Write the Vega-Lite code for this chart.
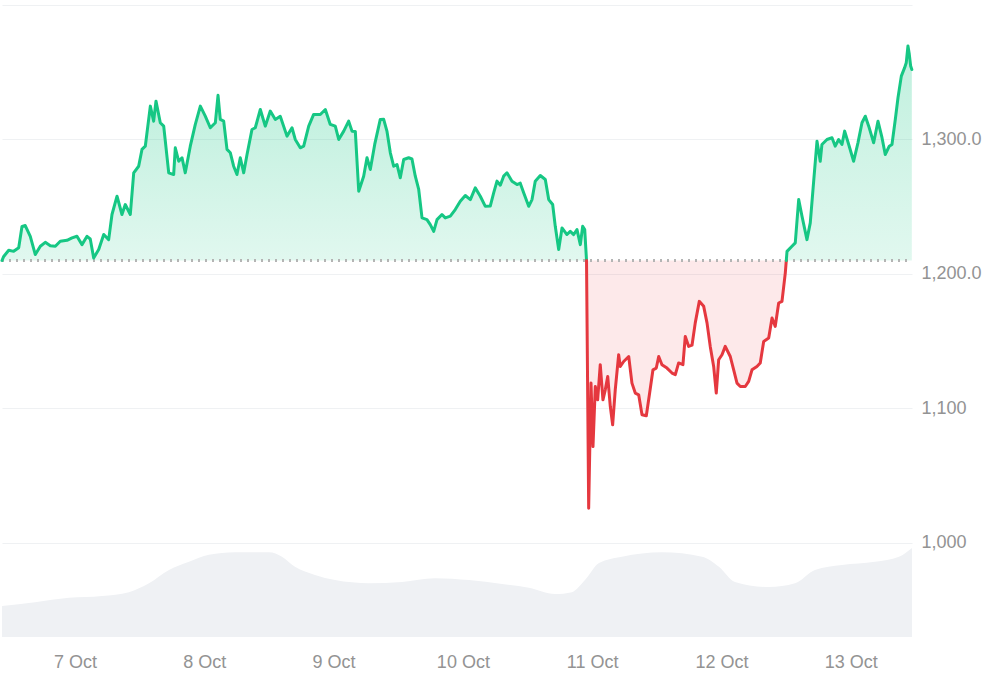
{
  "$schema": "https://vega.github.io/schema/vega-lite/v6.json",
  "width": 910,
  "height": 632,
  "padding": {"left": 0, "top": 5, "right": 0, "bottom": 0},
  "background": "#ffffff",
  "config": {
    "view": {"stroke": null},
    "font": "Liberation Sans"
  },
  "datasets": {
    "price": [
      {"t": "2025-10-06T10:27", "p": 1210, "seg": "a"},
      {"t": "2025-10-06T10:46", "p": 1213, "seg": "a"},
      {"t": "2025-10-06T11:42", "p": 1217.6, "seg": "a"},
      {"t": "2025-10-06T12:37", "p": 1216.8, "seg": "a"},
      {"t": "2025-10-06T13:33", "p": 1219.4, "seg": "a"},
      {"t": "2025-10-06T14:10", "p": 1235.4, "seg": "a"},
      {"t": "2025-10-06T14:46", "p": 1236, "seg": "a"},
      {"t": "2025-10-06T15:42", "p": 1228, "seg": "a"},
      {"t": "2025-10-06T16:38", "p": 1214.4, "seg": "a"},
      {"t": "2025-10-06T17:34", "p": 1220.6, "seg": "a"},
      {"t": "2025-10-06T18:29", "p": 1223.5, "seg": "a"},
      {"t": "2025-10-06T19:25", "p": 1221, "seg": "a"},
      {"t": "2025-10-06T20:21", "p": 1220.6, "seg": "a"},
      {"t": "2025-10-06T21:16", "p": 1224.3, "seg": "a"},
      {"t": "2025-10-06T22:31", "p": 1225, "seg": "a"},
      {"t": "2025-10-06T23:27", "p": 1226.8, "seg": "a"},
      {"t": "2025-10-07T00:22", "p": 1228, "seg": "a"},
      {"t": "2025-10-07T01:18", "p": 1221.8, "seg": "a"},
      {"t": "2025-10-07T02:14", "p": 1228, "seg": "a"},
      {"t": "2025-10-07T02:50", "p": 1226, "seg": "a"},
      {"t": "2025-10-07T03:28", "p": 1211.9, "seg": "a"},
      {"t": "2025-10-07T04:24", "p": 1218.1, "seg": "a"},
      {"t": "2025-10-07T05:20", "p": 1229.3, "seg": "a"},
      {"t": "2025-10-07T06:15", "p": 1225.5, "seg": "a"},
      {"t": "2025-10-07T06:52", "p": 1244.2, "seg": "a"},
      {"t": "2025-10-07T07:48", "p": 1257.8, "seg": "a"},
      {"t": "2025-10-07T08:43", "p": 1244.2, "seg": "a"},
      {"t": "2025-10-07T09:20", "p": 1251.6, "seg": "a"},
      {"t": "2025-10-07T10:16", "p": 1244.2, "seg": "a"},
      {"t": "2025-10-07T10:54", "p": 1275.2, "seg": "a"},
      {"t": "2025-10-07T11:49", "p": 1280.1, "seg": "a"},
      {"t": "2025-10-07T12:26", "p": 1292.6, "seg": "a"},
      {"t": "2025-10-07T13:03", "p": 1295, "seg": "a"},
      {"t": "2025-10-07T13:59", "p": 1324.8, "seg": "a"},
      {"t": "2025-10-07T14:36", "p": 1313.6, "seg": "a"},
      {"t": "2025-10-07T15:02", "p": 1328.5, "seg": "a"},
      {"t": "2025-10-07T15:50", "p": 1312.4, "seg": "a"},
      {"t": "2025-10-07T16:28", "p": 1309.9, "seg": "a"},
      {"t": "2025-10-07T17:24", "p": 1275.2, "seg": "a"},
      {"t": "2025-10-07T18:19", "p": 1273.9, "seg": "a"},
      {"t": "2025-10-07T18:37", "p": 1293.8, "seg": "a"},
      {"t": "2025-10-07T19:15", "p": 1283.8, "seg": "a"},
      {"t": "2025-10-07T19:52", "p": 1286.4, "seg": "a"},
      {"t": "2025-10-07T20:28", "p": 1275.2, "seg": "a"},
      {"t": "2025-10-07T21:24", "p": 1295, "seg": "a"},
      {"t": "2025-10-07T22:20", "p": 1311.2, "seg": "a"},
      {"t": "2025-10-07T23:16", "p": 1324.8, "seg": "a"},
      {"t": "2025-10-08T00:11", "p": 1317.3, "seg": "a"},
      {"t": "2025-10-08T01:07", "p": 1308.7, "seg": "a"},
      {"t": "2025-10-08T02:03", "p": 1312.4, "seg": "a"},
      {"t": "2025-10-08T02:33", "p": 1332.8, "seg": "a"},
      {"t": "2025-10-08T02:58", "p": 1314.9, "seg": "a"},
      {"t": "2025-10-08T03:36", "p": 1313.6, "seg": "a"},
      {"t": "2025-10-08T04:13", "p": 1292.6, "seg": "a"},
      {"t": "2025-10-08T04:50", "p": 1290.1, "seg": "a"},
      {"t": "2025-10-08T05:27", "p": 1280.1, "seg": "a"},
      {"t": "2025-10-08T06:04", "p": 1273.9, "seg": "a"},
      {"t": "2025-10-08T06:41", "p": 1286.4, "seg": "a"},
      {"t": "2025-10-08T07:19", "p": 1275.2, "seg": "a"},
      {"t": "2025-10-08T07:56", "p": 1288.8, "seg": "a"},
      {"t": "2025-10-08T08:51", "p": 1307.4, "seg": "a"},
      {"t": "2025-10-08T09:28", "p": 1308.7, "seg": "a"},
      {"t": "2025-10-08T10:24", "p": 1322.3, "seg": "a"},
      {"t": "2025-10-08T11:19", "p": 1309.9, "seg": "a"},
      {"t": "2025-10-08T12:15", "p": 1321.1, "seg": "a"},
      {"t": "2025-10-08T13:11", "p": 1314.9, "seg": "a"},
      {"t": "2025-10-08T14:06", "p": 1317.3, "seg": "a"},
      {"t": "2025-10-08T15:21", "p": 1302.5, "seg": "a"},
      {"t": "2025-10-08T16:17", "p": 1308.7, "seg": "a"},
      {"t": "2025-10-08T16:53", "p": 1300, "seg": "a"},
      {"t": "2025-10-08T17:49", "p": 1293.8, "seg": "a"},
      {"t": "2025-10-08T18:27", "p": 1295, "seg": "a"},
      {"t": "2025-10-08T19:23", "p": 1309.9, "seg": "a"},
      {"t": "2025-10-08T20:18", "p": 1318.6, "seg": "a"},
      {"t": "2025-10-08T21:32", "p": 1318.6, "seg": "a"},
      {"t": "2025-10-08T22:28", "p": 1322.3, "seg": "a"},
      {"t": "2025-10-08T23:23", "p": 1311.2, "seg": "a"},
      {"t": "2025-10-09T00:19", "p": 1309.9, "seg": "a"},
      {"t": "2025-10-09T00:57", "p": 1300, "seg": "a"},
      {"t": "2025-10-09T01:53", "p": 1306.2, "seg": "a"},
      {"t": "2025-10-09T02:48", "p": 1313.6, "seg": "a"},
      {"t": "2025-10-09T03:25", "p": 1306.2, "seg": "a"},
      {"t": "2025-10-09T04:02", "p": 1306, "seg": "a"},
      {"t": "2025-10-09T04:40", "p": 1261.5, "seg": "a"},
      {"t": "2025-10-09T05:35", "p": 1272.7, "seg": "a"},
      {"t": "2025-10-09T06:12", "p": 1286.4, "seg": "a"},
      {"t": "2025-10-09T06:49", "p": 1277.7, "seg": "a"},
      {"t": "2025-10-09T07:38", "p": 1296.3, "seg": "a"},
      {"t": "2025-10-09T08:40", "p": 1314.9, "seg": "a"},
      {"t": "2025-10-09T09:18", "p": 1315, "seg": "a"},
      {"t": "2025-10-09T09:55", "p": 1306, "seg": "a"},
      {"t": "2025-10-09T10:32", "p": 1290.1, "seg": "a"},
      {"t": "2025-10-09T11:09", "p": 1280.1, "seg": "a"},
      {"t": "2025-10-09T11:46", "p": 1281.4, "seg": "a"},
      {"t": "2025-10-09T12:23", "p": 1271.5, "seg": "a"},
      {"t": "2025-10-09T13:01", "p": 1285.1, "seg": "a"},
      {"t": "2025-10-09T13:56", "p": 1286.4, "seg": "a"},
      {"t": "2025-10-09T14:33", "p": 1285.5, "seg": "a"},
      {"t": "2025-10-09T15:10", "p": 1272.7, "seg": "a"},
      {"t": "2025-10-09T15:48", "p": 1262.8, "seg": "a"},
      {"t": "2025-10-09T16:25", "p": 1241.7, "seg": "a"},
      {"t": "2025-10-09T17:20", "p": 1240.4, "seg": "a"},
      {"t": "2025-10-09T17:57", "p": 1236.7, "seg": "a"},
      {"t": "2025-10-09T18:35", "p": 1231.7, "seg": "a"},
      {"t": "2025-10-09T19:12", "p": 1240.4, "seg": "a"},
      {"t": "2025-10-09T20:07", "p": 1244.2, "seg": "a"},
      {"t": "2025-10-09T20:44", "p": 1241.7, "seg": "a"},
      {"t": "2025-10-09T21:40", "p": 1243, "seg": "a"},
      {"t": "2025-10-09T22:35", "p": 1247.9, "seg": "a"},
      {"t": "2025-10-09T23:31", "p": 1254.1, "seg": "a"},
      {"t": "2025-10-10T00:27", "p": 1258.3, "seg": "a"},
      {"t": "2025-10-10T01:23", "p": 1255.3, "seg": "a"},
      {"t": "2025-10-10T02:18", "p": 1264, "seg": "a"},
      {"t": "2025-10-10T03:14", "p": 1257.8, "seg": "a"},
      {"t": "2025-10-10T04:10", "p": 1250.3, "seg": "a"},
      {"t": "2025-10-10T05:05", "p": 1250.5, "seg": "a"},
      {"t": "2025-10-10T05:43", "p": 1260.3, "seg": "a"},
      {"t": "2025-10-10T06:20", "p": 1269, "seg": "a"},
      {"t": "2025-10-10T06:57", "p": 1266, "seg": "a"},
      {"t": "2025-10-10T07:34", "p": 1272.7, "seg": "a"},
      {"t": "2025-10-10T08:11", "p": 1275.2, "seg": "a"},
      {"t": "2025-10-10T09:07", "p": 1269, "seg": "a"},
      {"t": "2025-10-10T10:03", "p": 1266.5, "seg": "a"},
      {"t": "2025-10-10T10:39", "p": 1267.5, "seg": "a"},
      {"t": "2025-10-10T11:17", "p": 1260.3, "seg": "a"},
      {"t": "2025-10-10T12:13", "p": 1250.3, "seg": "a"},
      {"t": "2025-10-10T12:50", "p": 1255.3, "seg": "a"},
      {"t": "2025-10-10T13:26", "p": 1269, "seg": "a"},
      {"t": "2025-10-10T14:22", "p": 1273.2, "seg": "a"},
      {"t": "2025-10-10T15:18", "p": 1270.2, "seg": "a"},
      {"t": "2025-10-10T15:56", "p": 1255.3, "seg": "a"},
      {"t": "2025-10-10T16:40", "p": 1251.6, "seg": "a"},
      {"t": "2025-10-10T17:09", "p": 1235.4, "seg": "a"},
      {"t": "2025-10-10T17:47", "p": 1218.1, "seg": "a"},
      {"t": "2025-10-10T18:24", "p": 1234.2, "seg": "a"},
      {"t": "2025-10-10T19:19", "p": 1229.3, "seg": "a"},
      {"t": "2025-10-10T19:56", "p": 1231.7, "seg": "a"},
      {"t": "2025-10-10T20:34", "p": 1229.3, "seg": "a"},
      {"t": "2025-10-10T21:11", "p": 1233, "seg": "a"},
      {"t": "2025-10-10T21:48", "p": 1221.8, "seg": "a"},
      {"t": "2025-10-10T22:14", "p": 1235.4, "seg": "a"},
      {"t": "2025-10-10T22:37", "p": 1233, "seg": "a"},
      {"t": "2025-10-10T22:57", "p": 1210, "seg": "a"},
      {"t": "2025-10-10T22:57", "p": 1210, "seg": "b"},
      {"t": "2025-10-10T23:21", "p": 1025.8, "seg": "b"},
      {"t": "2025-10-10T23:47", "p": 1118.8, "seg": "b"},
      {"t": "2025-10-11T00:09", "p": 1071.6, "seg": "b"},
      {"t": "2025-10-11T00:35", "p": 1116.3, "seg": "b"},
      {"t": "2025-10-11T01:01", "p": 1106.4, "seg": "b"},
      {"t": "2025-10-11T01:30", "p": 1132.5, "seg": "b"},
      {"t": "2025-10-11T02:00", "p": 1106.4, "seg": "b"},
      {"t": "2025-10-11T02:26", "p": 1113.8, "seg": "b"},
      {"t": "2025-10-11T02:53", "p": 1123.8, "seg": "b"},
      {"t": "2025-10-11T03:22", "p": 1101.4, "seg": "b"},
      {"t": "2025-10-11T03:48", "p": 1087.8, "seg": "b"},
      {"t": "2025-10-11T04:17", "p": 1113.8, "seg": "b"},
      {"t": "2025-10-11T04:55", "p": 1139.9, "seg": "b"},
      {"t": "2025-10-11T05:13", "p": 1131.2, "seg": "b"},
      {"t": "2025-10-11T05:51", "p": 1134.9, "seg": "b"},
      {"t": "2025-10-11T06:47", "p": 1138.6, "seg": "b"},
      {"t": "2025-10-11T07:23", "p": 1118.8, "seg": "b"},
      {"t": "2025-10-11T08:00", "p": 1111.4, "seg": "b"},
      {"t": "2025-10-11T08:38", "p": 1110.1, "seg": "b"},
      {"t": "2025-10-11T09:15", "p": 1095.3, "seg": "b"},
      {"t": "2025-10-11T10:03", "p": 1094.5, "seg": "b"},
      {"t": "2025-10-11T10:40", "p": 1111.4, "seg": "b"},
      {"t": "2025-10-11T11:17", "p": 1128.7, "seg": "b"},
      {"t": "2025-10-11T11:54", "p": 1130, "seg": "b"},
      {"t": "2025-10-11T12:21", "p": 1138.6, "seg": "b"},
      {"t": "2025-10-11T12:57", "p": 1132.5, "seg": "b"},
      {"t": "2025-10-11T13:53", "p": 1130, "seg": "b"},
      {"t": "2025-10-11T14:49", "p": 1126.3, "seg": "b"},
      {"t": "2025-10-11T15:26", "p": 1125.1, "seg": "b"},
      {"t": "2025-10-11T16:03", "p": 1133.8, "seg": "b"},
      {"t": "2025-10-11T16:51", "p": 1132.5, "seg": "b"},
      {"t": "2025-10-11T17:17", "p": 1153.5, "seg": "b"},
      {"t": "2025-10-11T17:55", "p": 1146.1, "seg": "b"},
      {"t": "2025-10-11T18:32", "p": 1147, "seg": "b"},
      {"t": "2025-10-11T19:08", "p": 1163.6, "seg": "b"},
      {"t": "2025-10-11T19:53", "p": 1179.6, "seg": "b"},
      {"t": "2025-10-11T20:42", "p": 1175.9, "seg": "b"},
      {"t": "2025-10-11T21:19", "p": 1163.6, "seg": "b"},
      {"t": "2025-10-11T21:55", "p": 1146.1, "seg": "b"},
      {"t": "2025-10-11T22:33", "p": 1131.2, "seg": "b"},
      {"t": "2025-10-11T23:02", "p": 1111.4, "seg": "b"},
      {"t": "2025-10-11T23:29", "p": 1136.2, "seg": "b"},
      {"t": "2025-10-12T00:06", "p": 1139.9, "seg": "b"},
      {"t": "2025-10-12T00:42", "p": 1146.1, "seg": "b"},
      {"t": "2025-10-12T01:38", "p": 1138.6, "seg": "b"},
      {"t": "2025-10-12T02:16", "p": 1128.7, "seg": "b"},
      {"t": "2025-10-12T02:53", "p": 1118.8, "seg": "b"},
      {"t": "2025-10-12T03:30", "p": 1116.3, "seg": "b"},
      {"t": "2025-10-12T04:25", "p": 1116.3, "seg": "b"},
      {"t": "2025-10-12T05:03", "p": 1120.1, "seg": "b"},
      {"t": "2025-10-12T05:40", "p": 1128.7, "seg": "b"},
      {"t": "2025-10-12T06:35", "p": 1131.2, "seg": "b"},
      {"t": "2025-10-12T07:12", "p": 1133.8, "seg": "b"},
      {"t": "2025-10-12T07:50", "p": 1149.8, "seg": "b"},
      {"t": "2025-10-12T08:46", "p": 1152.3, "seg": "b"},
      {"t": "2025-10-12T09:23", "p": 1167.2, "seg": "b"},
      {"t": "2025-10-12T09:59", "p": 1161, "seg": "b"},
      {"t": "2025-10-12T10:37", "p": 1178.4, "seg": "b"},
      {"t": "2025-10-12T11:14", "p": 1179.6, "seg": "b"},
      {"t": "2025-10-12T11:51", "p": 1200.8, "seg": "b"},
      {"t": "2025-10-12T12:02", "p": 1210, "seg": "b"},
      {"t": "2025-10-12T12:02", "p": 1210, "seg": "c"},
      {"t": "2025-10-12T12:10", "p": 1216.8, "seg": "c"},
      {"t": "2025-10-12T13:05", "p": 1220.6, "seg": "c"},
      {"t": "2025-10-12T13:42", "p": 1223.1, "seg": "c"},
      {"t": "2025-10-12T14:20", "p": 1255.3, "seg": "c"},
      {"t": "2025-10-12T14:57", "p": 1242.9, "seg": "c"},
      {"t": "2025-10-12T15:52", "p": 1225.5, "seg": "c"},
      {"t": "2025-10-12T16:29", "p": 1238, "seg": "c"},
      {"t": "2025-10-12T17:07", "p": 1269, "seg": "c"},
      {"t": "2025-10-12T17:44", "p": 1298.7, "seg": "c"},
      {"t": "2025-10-12T18:20", "p": 1283.8, "seg": "c"},
      {"t": "2025-10-12T18:39", "p": 1296.3, "seg": "c"},
      {"t": "2025-10-12T19:35", "p": 1300, "seg": "c"},
      {"t": "2025-10-12T20:31", "p": 1301.3, "seg": "c"},
      {"t": "2025-10-12T21:07", "p": 1295, "seg": "c"},
      {"t": "2025-10-12T21:45", "p": 1300, "seg": "c"},
      {"t": "2025-10-12T22:22", "p": 1296.3, "seg": "c"},
      {"t": "2025-10-12T22:52", "p": 1306.2, "seg": "c"},
      {"t": "2025-10-12T23:37", "p": 1296.3, "seg": "c"},
      {"t": "2025-10-13T00:32", "p": 1283.8, "seg": "c"},
      {"t": "2025-10-13T01:20", "p": 1297.5, "seg": "c"},
      {"t": "2025-10-13T02:05", "p": 1312.4, "seg": "c"},
      {"t": "2025-10-13T02:42", "p": 1317.3, "seg": "c"},
      {"t": "2025-10-13T03:20", "p": 1309.9, "seg": "c"},
      {"t": "2025-10-13T04:15", "p": 1297.5, "seg": "c"},
      {"t": "2025-10-13T05:03", "p": 1313.6, "seg": "c"},
      {"t": "2025-10-13T05:48", "p": 1301.3, "seg": "c"},
      {"t": "2025-10-13T06:24", "p": 1288.8, "seg": "c"},
      {"t": "2025-10-13T07:09", "p": 1295, "seg": "c"},
      {"t": "2025-10-13T07:39", "p": 1296.3, "seg": "c"},
      {"t": "2025-10-13T08:16", "p": 1314.9, "seg": "c"},
      {"t": "2025-10-13T08:46", "p": 1331, "seg": "c"},
      {"t": "2025-10-13T09:23", "p": 1347.1, "seg": "c"},
      {"t": "2025-10-13T10:00", "p": 1353.4, "seg": "c"},
      {"t": "2025-10-13T10:18", "p": 1357.1, "seg": "c"},
      {"t": "2025-10-13T10:37", "p": 1369.5, "seg": "c"},
      {"t": "2025-10-13T10:52", "p": 1363.3, "seg": "c"},
      {"t": "2025-10-13T11:07", "p": 1354.6, "seg": "c"},
      {"t": "2025-10-13T11:20", "p": 1352, "seg": "c"}
    ],
    "volume": [
      {"t": "2025-10-06T10:27", "v": 0.49},
      {"t": "2025-10-06T16:35", "v": 0.55},
      {"t": "2025-10-06T22:53", "v": 0.62},
      {"t": "2025-10-07T05:01", "v": 0.65},
      {"t": "2025-10-07T10:01", "v": 0.71},
      {"t": "2025-10-07T13:44", "v": 0.85},
      {"t": "2025-10-07T17:27", "v": 1.06},
      {"t": "2025-10-07T21:10", "v": 1.19},
      {"t": "2025-10-08T00:52", "v": 1.3},
      {"t": "2025-10-08T05:42", "v": 1.34},
      {"t": "2025-10-08T12:01", "v": 1.34},
      {"t": "2025-10-08T14:25", "v": 1.27},
      {"t": "2025-10-08T16:50", "v": 1.11},
      {"t": "2025-10-08T20:33", "v": 0.98},
      {"t": "2025-10-09T00:16", "v": 0.9},
      {"t": "2025-10-09T06:34", "v": 0.85},
      {"t": "2025-10-09T12:42", "v": 0.87},
      {"t": "2025-10-09T18:49", "v": 0.93},
      {"t": "2025-10-10T01:08", "v": 0.9},
      {"t": "2025-10-10T07:16", "v": 0.84},
      {"t": "2025-10-10T12:16", "v": 0.78},
      {"t": "2025-10-10T17:06", "v": 0.68},
      {"t": "2025-10-10T20:15", "v": 0.71},
      {"t": "2025-10-10T22:40", "v": 0.9},
      {"t": "2025-10-11T01:16", "v": 1.17},
      {"t": "2025-10-11T05:32", "v": 1.27},
      {"t": "2025-10-11T12:57", "v": 1.34},
      {"t": "2025-10-11T20:23", "v": 1.27},
      {"t": "2025-10-11T23:32", "v": 1.11},
      {"t": "2025-10-12T02:30", "v": 0.87},
      {"t": "2025-10-12T08:49", "v": 0.79},
      {"t": "2025-10-12T13:39", "v": 0.85},
      {"t": "2025-10-12T17:21", "v": 1.06},
      {"t": "2025-10-12T22:22", "v": 1.14},
      {"t": "2025-10-13T04:30", "v": 1.19},
      {"t": "2025-10-13T08:57", "v": 1.27},
      {"t": "2025-10-13T11:22", "v": 1.41}
    ]
  },
  "encoding": {
    "x": {
      "field": "t",
      "type": "temporal",
      "scale": {
        "domain": [
          {"year": 2025, "month": 10, "date": 6, "hours": 10, "minutes": 27},
          {"year": 2025, "month": 10, "date": 13, "hours": 11, "minutes": 22}
        ],
        "nice": false
      },
      "axis": {
        "title": null,
        "format": "%-d %b",
        "values": [
          {"year": 2025, "month": 10, "date": 7},
          {"year": 2025, "month": 10, "date": 8},
          {"year": 2025, "month": 10, "date": 9},
          {"year": 2025, "month": 10, "date": 10},
          {"year": 2025, "month": 10, "date": 11},
          {"year": 2025, "month": 10, "date": 12},
          {"year": 2025, "month": 10, "date": 13}
        ],
        "grid": false,
        "domain": false,
        "ticks": false,
        "labelPadding": 16,
        "labelFontSize": 18,
        "labelColor": "#939393",
        "labelFont": "Liberation Sans"
      }
    }
  },
  "layer": [
    {
      "data": {"name": "volume"},
      "mark": {"type": "area", "interpolate": "monotone", "color": "#eff1f4"},
      "encoding": {
        "y": {
          "field": "v",
          "type": "quantitative",
          "scale": {"domain": [0, 10]},
          "axis": null
        }
      }
    },
    {
      "data": {"name": "price"},
      "encoding": {
        "y": {
          "field": "p",
          "type": "quantitative",
          "scale": {"domain": [930, 1400], "nice": false, "zero": false},
          "axis": {
            "orient": "right",
            "title": null,
            "values": [1000, 1100, 1200, 1300, 1400],
            "labelExpr": "datum.value >= 1400 ? '' : datum.value >= 1200 ? format(datum.value, ',.1f') : format(datum.value, ',')",
            "grid": true,
            "gridColor": "#eff1f3",
            "gridWidth": 1,
            "domain": false,
            "ticks": false,
            "labelPadding": 9,
            "labelFontSize": 18,
            "labelColor": "#939393",
            "labelFont": "Liberation Sans",
            "labelBaseline": "middle"
          }
        }
      },
      "layer": [
        {
          "transform": [{"filter": "datum.seg != 'b'"}],
          "mark": {
            "type": "area",
            "fill": {
              "gradient": "linear",
              "x1": 0, "y1": 0, "x2": 0, "y2": 1,
              "stops": [
                {"offset": 0, "color": "rgba(22,199,132,0.27)"},
                {"offset": 1, "color": "rgba(22,199,132,0.13)"}
              ]
            }
          },
          "encoding": {
            "y2": {"datum": 1210},
            "detail": {"field": "seg"}
          }
        },
        {
          "transform": [{"filter": "datum.seg == 'b'"}],
          "mark": {"type": "area", "fill": "rgba(234,57,67,0.11)"},
          "encoding": {
            "y2": {"datum": 1210}
          }
        },
        {
          "mark": {"type": "rule", "color": "#b5b5b5", "strokeWidth": 1.5, "strokeDash": [2, 5]},
          "encoding": {"y": {"datum": 1210}, "x": {"value": 0}, "x2": {"value": 910}}
        },
        {
          "mark": {"type": "line", "strokeWidth": 3, "strokeJoin": "round", "strokeCap": "round"},
          "encoding": {
            "color": {
              "field": "seg",
              "type": "nominal",
              "scale": {"domain": ["a", "b", "c"], "range": ["#16c784", "#e5383f", "#16c784"]},
              "legend": null
            }
          }
        }
      ]
    }
  ],
  "resolve": {"scale": {"y": "independent"}}
}
